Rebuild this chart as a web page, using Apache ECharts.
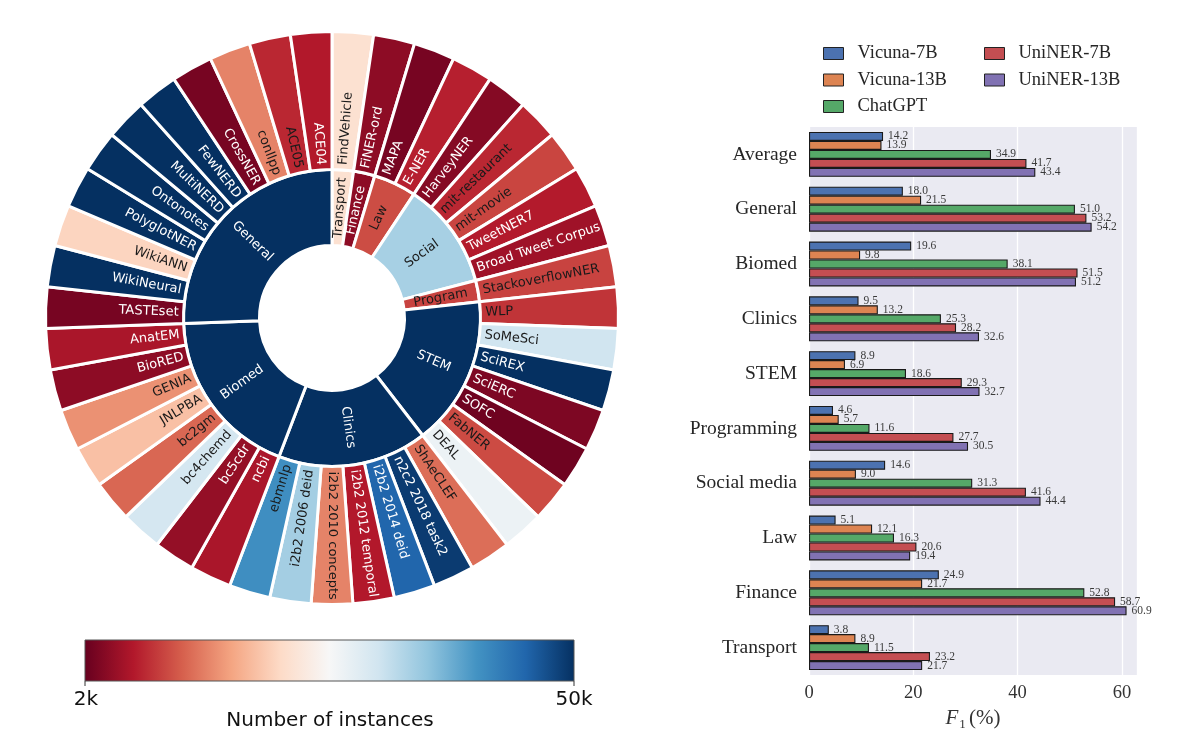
<!DOCTYPE html>
<html><head><meta charset="utf-8">
<script src="https://cdn.jsdelivr.net/npm/echarts@6/dist/echarts.min.js"></script>
<style>html,body{margin:0;padding:0;background:#fff}#c{width:1200px;height:753px}</style>
</head><body><div id="c"></div>
<script>
// ---------- Sunburst data (counter-clockwise from 12 o'clock) ----------
const domains = ['General','Biomed','Clinics','STEM','Program','Social','Law','Finance','Transport'];
const datasetNames = [
 'ACE04','ACE05','conllpp','CrossNER','FewNERD','MultiNERD','Ontonotes','PolyglotNER','WikiANN','WikiNeural','TASTEset',
 'AnatEM','BioRED','GENIA','JNLPBA','bc2gm','bc4chemd','bc5cdr','ncbi',
 'ebmnlp','i2b2 2006 deid','i2b2 2010 concepts','i2b2 2012 temporal','i2b2 2014 deid','n2c2 2018 task2','ShAeCLEF',
 'DEAL','FabNER','SOFC','SciERC','SciREX','SoMeSci','WLP',
 'StackoverflowNER',
 'Broad Tweet Corpus','TweetNER7','mit-movie','mit-restaurant','HarveyNER',
 'E-NER','MAPA',
 'FiNER-ord',
 'FindVehicle'];
const datasetDomain = [
 'General','General','General','General','General','General','General','General','General','General','General',
 'Biomed','Biomed','Biomed','Biomed','Biomed','Biomed','Biomed','Biomed',
 'Clinics','Clinics','Clinics','Clinics','Clinics','Clinics','Clinics',
 'STEM','STEM','STEM','STEM','STEM','STEM','STEM',
 'Program',
 'Social','Social','Social','Social','Social',
 'Law','Law',
 'Finance',
 'Transport'];
// number of instances (thousands), estimated from colours; >=50k saturates
const datasetInstancesK = [
 6.8,7.8,14,3.0,50,50,50,50,20.7,50,3.0,
 6.3,4.4,15,18.8,12.1,30.3,4.9,6.3,
 40.9,34.2,14,6.8,45.2,49,12.6,
 27.4,10.2,2.5,3.4,50,30.8,8.7,
 9.7,
 5.6,6.9,9.8,7.8,3.9,
 7.3,3.0,
 4.4,
 22.2];
const colorMinK = 2, colorMaxK = 50;
const colorbarLabels = ['2k','50k'];
const colorbarTitle = 'Number of instances';
const rdbu = ['#67001f','#b2182b','#d6604d','#f4a582','#fddbc7','#f7f7f7','#d1e5f0','#92c5de','#4393c3','#2166ac','#053061'];

// ---------- Bar chart data ----------
const barCategories = ['Average','General','Biomed','Clinics','STEM','Programming','Social media','Law','Finance','Transport'];
const modelNames = ['Vicuna-7B','Vicuna-13B','ChatGPT','UniNER-7B','UniNER-13B'];
const vicuna7b  = [14.2,18.0,19.6, 9.5, 8.9, 4.6,14.6, 5.1,24.9, 3.8];
const vicuna13b = [13.9,21.5, 9.8,13.2, 6.9, 5.7, 9.0,12.1,21.7, 8.9];
const chatgpt   = [34.9,51.0,38.1,25.3,18.6,11.6,31.3,16.3,52.8,11.5];
const uniner7b  = [41.7,53.2,51.5,28.2,29.3,27.7,41.6,20.6,58.7,23.2];
const uniner13b = [43.4,54.2,51.2,32.6,32.7,30.5,44.4,19.4,60.9,21.7];
const modelColors = ['#4c72b0','#dd8452','#55a868','#c44e52','#8172b3'];

// ---------- helpers ----------
function hex2rgb(h){return [parseInt(h.slice(1,3),16),parseInt(h.slice(3,5),16),parseInt(h.slice(5,7),16)];}
function lerpColor(t){
  t=Math.max(0,Math.min(1,t));
  const p=t*(rdbu.length-1), i=Math.min(Math.floor(p),rdbu.length-2), f=p-i;
  const a=hex2rgb(rdbu[i]), b=hex2rgb(rdbu[i+1]);
  return 'rgb('+a.map((v,k)=>Math.round(v+(b[k]-v)*f)).join(',')+')';
}
function tOf(k){return Math.max(0,Math.min(1,(k-colorMinK)/(colorMaxK-colorMinK)));}
function textColorOf(t){return (t>=0.12 && t<=0.82)?'#1a1a1a':'#ffffff';}

// build tree; reversed so that clockwise layout reproduces counter-clockwise order
const tree = domains.map(d=>{
  const kids=[]; let sum=0;
  datasetNames.forEach((n,i)=>{ if(datasetDomain[i]===d){
    const t=tOf(datasetInstancesK[i]); sum+=datasetInstancesK[i];
    kids.push({name:n,value:1,itemStyle:{color:lerpColor(t)},label:{color:textColorOf(t)}});
  }});
  const t=tOf(sum);
  return {name:d,itemStyle:{color:lerpColor(t)},label:{color:textColorOf(t)},children:kids.reverse()};
}).reverse();

const chart = echarts.init(document.getElementById('c'), null, {renderer:'canvas'});
const serif = 'Liberation Serif, DejaVu Serif, serif';
const sans = 'DejaVu Sans, Verdana, sans-serif';

const barData = [vicuna7b,vicuna13b,chatgpt,uniner7b,uniner13b];
const barSeries = modelNames.map((m,i)=>({
  name:m, type:'bar', data:barData[i], barGap:'0%', barCategoryGap:'18%',
  itemStyle:{color:modelColors[i], borderColor:'#1a1a1a', borderWidth:1.1},
  label:{show:true, position:'right', distance:5, formatter:p=>p.value.toFixed(1),
         fontFamily:serif, fontSize:11.5, color:'#3a3a3a'},
  emphasis:{disabled:true}
}));

const legendCommon = {orient:'vertical', top:44, padding:0, itemWidth:20, itemHeight:12, itemGap:7.5,
  icon:'rect', selectedMode:false,
  itemStyle:{borderColor:'#222', borderWidth:1},
  textStyle:{fontFamily:serif, fontSize:18.5, lineHeight:17, color:'#262626', padding:[0,0,0,9]}};

chart.setOption({
  animation:false,
  backgroundColor:'#ffffff',
  legend:[
    Object.assign({data:modelNames.slice(0,3), left:823}, legendCommon),
    Object.assign({data:modelNames.slice(3), left:984}, legendCommon)
  ],
  grid:{left:809, right:63, top:127, bottom:78, show:true, backgroundColor:'#eaeaf2', borderWidth:0},
  xAxis:{type:'value', min:0, max:62.9, interval:20,
    axisLine:{show:false}, axisTick:{show:false},
    splitLine:{lineStyle:{color:'#ffffff', width:1.3}},
    axisLabel:{fontFamily:serif, fontSize:18.5, color:'#333', margin:9, showMaxLabel:false},
    name:'{i|F}{s|1} {n|(%)}', nameLocation:'middle', nameGap:29,
    nameTextStyle:{rich:{
      i:{fontFamily:serif, fontStyle:'italic', fontSize:21, color:'#333', lineHeight:24, verticalAlign:'middle'},
      s:{fontFamily:serif, fontSize:13, color:'#333', lineHeight:24, verticalAlign:'bottom', padding:[10,0,0,1]},
      n:{fontFamily:serif, fontSize:21, color:'#333', lineHeight:24, verticalAlign:'middle'}
    }}
  },
  yAxis:{type:'category', data:barCategories, inverse:true,
    axisLine:{show:false}, axisTick:{show:false}, splitLine:{show:false},
    axisLabel:{fontFamily:serif, fontSize:19.5, color:'#262626', margin:12}
  },
  series:[
    {
      type:'sunburst', center:[332,318], radius:[72.5,286.5], startAngle:90, sort:null,
      nodeClick:false, emphasis:{focus:'none', disabled:true},
      data:tree,
      levels:[
        {},
        {r0:72.5, r:148.5, itemStyle:{borderColor:'#ffffff', borderWidth:3},
         label:{rotate:'radial', align:'center', fontFamily:sans, fontSize:13}},
        {r0:148.5, r:286.5, itemStyle:{borderColor:'#ffffff', borderWidth:3},
         label:{rotate:'radial', align:'left', distance:5, fontFamily:sans, fontSize:13}}
      ]
    }
  ].concat(barSeries),
  graphic:[
    {type:'rect', shape:{x:85, y:640, width:489, height:41},
     style:{fill:new echarts.graphic.LinearGradient(0,0,1,0, rdbu.map((c,i)=>({offset:i/(rdbu.length-1), color:c}))),
            stroke:'#555', lineWidth:1}},
    {type:'line', shape:{x1:85,y1:681,x2:85,y2:686}, style:{stroke:'#333', lineWidth:1}},
    {type:'line', shape:{x1:574,y1:681,x2:574,y2:686}, style:{stroke:'#333', lineWidth:1}},
    {type:'text', x:86, y:700, style:{text:colorbarLabels[0], font:'20px '+sans, fill:'#111', textAlign:'center', textVerticalAlign:'middle'}},
    {type:'text', x:574, y:700, style:{text:colorbarLabels[1], font:'20px '+sans, fill:'#111', textAlign:'center', textVerticalAlign:'middle'}},
    {type:'text', x:330, y:721, style:{text:colorbarTitle, font:'20px '+sans, fill:'#111', textAlign:'center', textVerticalAlign:'middle'}}
  ]
});
</script></body></html>
